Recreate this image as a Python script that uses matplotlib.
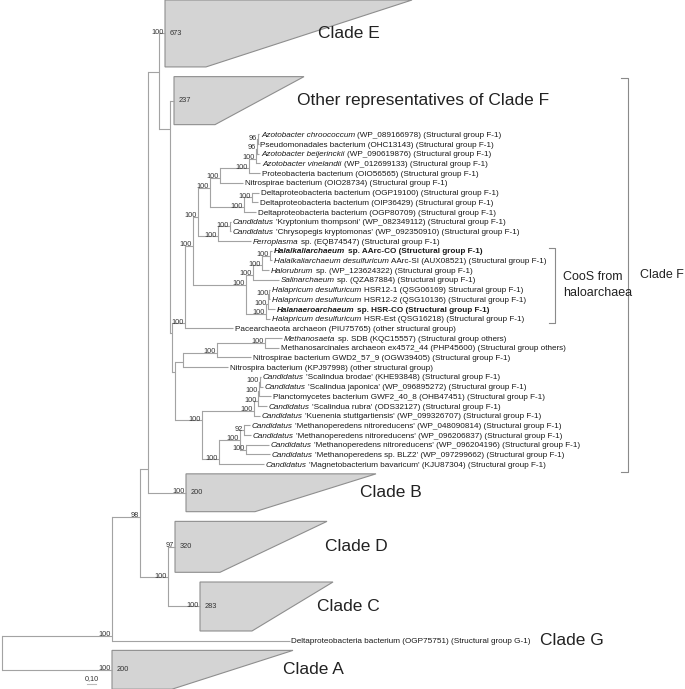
import matplotlib
matplotlib.use('Agg')
import matplotlib.pyplot as plt
from matplotlib.patches import Polygon

plt.rcParams['font.family'] = ['Liberation Sans', 'DejaVu Sans']

# ---- data ----
# leaves from top to bottom, text between * is italic
leaf_labels = [
    '*Azotobacter chroococcum* (WP_089166978) (Structural group F-1)',
    'Pseudomonadales bacterium (OHC13143) (Structural group F-1)',
    '*Azotobacter beijerinckii* (WP_090619876) (Structural group F-1)',
    '*Azotobacter vinelandii* (WP_012699133) (Structural group F-1)',
    'Proteobacteria bacterium (OIO56565) (Structural group F-1)',
    'Nitrospirae bacterium (OIO28734) (Structural group F-1)',
    'Deltaproteobacteria bacterium (OGP19100) (Structural group F-1)',
    'Deltaproteobacteria bacterium (OIP36429) (Structural group F-1)',
    'Deltaproteobacteria bacterium (OGP80709) (Structural group F-1)',
    "*Candidatus* 'Kryptonium thompsoni' (WP_082349112) (Structural group F-1)",
    "*Candidatus* 'Chrysopegis kryptomonas' (WP_092350910) (Structural group F-1)",
    '*Ferroplasma* sp. (EQB74547) (Structural group F-1)',
    '*Halalkaliarchaeum* sp. AArc-CO (Structural group F-1)',
    '*Halalkaliarchaeum desulfuricum* AArc-SI (AUX08521) (Structural group F-1)',
    '*Halorubrum* sp. (WP_123624322) (Structural group F-1)',
    '*Salinarchaeum* sp. (QZA87884) (Structural group F-1)',
    '*Halapricum desulfuricum* HSR12-1 (QSG06169) Structural group F-1)',
    '*Halapricum desulfuricum* HSR12-2 (QSG10136) (Structural group F-1)',
    '*Halanaeroarchaeum* sp. HSR-CO (Structural group F-1)',
    '*Halapricum desulfuricum* HSR-Est (QSG16218) (Structural group F-1)',
    'Pacearchaeota archaeon (PIU75765) (other structural group)',
    '*Methanosaeta* sp. SDB (KQC15557) (Structural group others)',
    'Methanosarcinales archaeon ex4572_44 (PHP45600) (Structural group others)',
    'Nitrospirae bacterium GWD2_57_9 (OGW39405) (Structural group F-1)',
    'Nitrospira bacterium (KPJ97998) (other structural group)',
    "*Candidatus* 'Scalindua brodae' (KHE93848) (Structural group F-1)",
    "*Candidatus* 'Scalindua japonica' (WP_096895272) (Structural group F-1)",
    'Planctomycetes bacterium GWF2_40_8 (OHB47451) (Structural group F-1)',
    "*Candidatus* 'Scalindua rubra' (ODS32127) (Structural group F-1)",
    "*Candidatus* 'Kuenenia stuttgartiensis' (WP_099326707) (Structural group F-1)",
    "*Candidatus* 'Methanoperedens nitroreducens' (WP_048090814) (Structural group F-1)",
    "*Candidatus* 'Methanoperedens nitroreducens' (WP_096206837) (Structural group F-1)",
    "*Candidatus* 'Methanoperedens nitroreducens' (WP_096204196) (Structural group F-1)",
    "*Candidatus* 'Methanoperedens sp. BLZ2' (WP_097299662) (Structural group F-1)",
    "*Candidatus* 'Magnetobacterium bavaricum' (KJU87304) (Structural group F-1)",
]
# depth of each leaf tip (tree units, 0.10 substitutions = 9 units)
leaf_tip = [259.5, 258.8, 259.5, 260.5, 260.5, 243.5, 259.5, 258.5, 256.5,
            231.5, 231.5, 251.5, 272.5, 272.5, 269.5, 279.5, 270.5, 270.5,
            275.5, 270.5, 233.5, 282.5, 279.5, 251.5, 228.5, 261.5, 263.5,
            271.5, 267.5, 260.5, 250.5, 251.5, 269.5, 270.5, 264.5]
bold_leaves = ['L13', 'L19']

# collapsed clades
clade_names = ['E', 'OtherF', 'B', 'D', 'C', 'A']
clade_size = [673, 237, 200, 320, 283, 200]
clade_support = [100, None, 100, 97, 100, 100]
clade_base = [165, 174, 186, 175, 200, 112]
clade_min_tip = [206, 215, 255, 220, 252, 172]
clade_max_tip = [412, 304, 376, 327, 333, 293]
clade_rows = [6.9, 4.95, 3.9, 5.25, 5.05, 4.0]
clade_titles = ['Clade E', 'Other representatives of Clade F', 'Clade B',
                'Clade D', 'Clade C', 'Clade A']

g_label = 'Deltaproteobacteria bacterium (OGP75751) (Structural group G-1)'
g_tip = 290

# internal nodes: name -> (depth, children, bootstrap)
nodes = {
    'a': (258.3, ['L1', 'L2'], 96),
    'b': (257.2, ['a', 'L3'], 96),
    'c': (256, ['b', 'L4'], 100),
    'd': (249, ['c', 'L5'], 100),
    'e': (220, ['d', 'L6'], 100),
    'h': (252, ['L7', 'L8'], 100),
    'g': (244, ['h', 'L9'], 100),
    'f': (210, ['e', 'g'], 100),
    'k': (230, ['L10', 'L11'], 100),
    'j': (218, ['k', 'L12'], 100),
    'i': (198, ['f', 'j'], 100),
    'h1': (270, ['L13', 'L14'], 100),
    'h2': (262, ['h1', 'L15'], 100),
    'h3': (253, ['h2', 'L16'], 100),
    'hs1': (269.3, ['L17', 'L18'], 100),
    'hs2': (268, ['hs1', 'L19'], 100),
    'hs3': (266, ['hs2', 'L20'], 100),
    'm': (246, ['h3', 'hs3'], 100),
    'l': (193, ['i', 'm'], 100),
    'n': (185, ['l', 'L21'], 100),
    'p': (265, ['L22', 'L23'], 100),
    'q': (217, ['p', 'L24'], 100),
    'r': (183, ['q', 'L25'], None),
    'A1': (260, ['L26', 'L27'], 100),
    'A2': (259, ['A1', 'L28'], 100),
    'A3': (258, ['A2', 'L29'], 100),
    'A4': (254, ['A3', 'L30'], 100),
    'm1': (244, ['L31', 'L32'], 92),
    'm3': (246, ['L33', 'L34'], 100),
    'm2': (240, ['m1', 'm3'], 100),
    'm4': (219, ['m2', 'L35'], 100),
    'S': (202, ['A4', 'm4'], 100),
    'F2': (175, ['r', 'S'], None),
    'F1': (172, ['n', 'F2'], None),
    'F': (170, ['OtherF', 'F1'], None),
    'NEF': (159, ['E', 'F'], None),
    'N149': (148, ['NEF', 'B'], None),
    'DC': (168, ['D', 'C'], 100),
    'N141': (140, ['N149', 'DC'], 98),
    'N112': (112, ['N141', 'G'], 100),
    'root': (2, ['N112', 'A'], None),
}

leaves = ['L%d' % (i + 1) for i in range(len(leaf_labels))]
order = ['E', 'OtherF'] + leaves + ['B', 'D', 'C', 'G', 'A']

# ---- layout ----
ROW = 9.7
ext, attach, weight, xpos = {}, {}, {}, {}
bottom = None
for name in order:
    h = clade_rows[clade_names.index(name)] * ROW if name in clade_names else 0
    top = 0 if bottom is None else bottom + ROW
    bottom = top + h
    ext[name] = (top, bottom)
    attach[name] = top + h / 2
    weight[name] = h / ROW + 1
    if name in clade_names:
        xpos[name] = clade_base[clade_names.index(name)]
    elif name == 'G':
        xpos[name] = g_tip
    else:
        xpos[name] = leaf_tip[leaves.index(name)]


def layout(name):
    if name in attach:
        return
    depth, kids, _ = nodes[name]
    for k in kids:
        layout(k)
    ext[name] = (min(ext[k][0] for k in kids), max(ext[k][1] for k in kids))
    weight[name] = sum(weight[k] for k in kids)
    inv = sum(1 / weight[k] for k in kids)
    attach[name] = sum((ext[k][0] + ext[k][1]) / 2 / weight[k] for k in kids) / inv
    xpos[name] = depth


layout('root')

# ---- drawing ----
fig = plt.figure(figsize=(6.85, 6.89), dpi=100)
ax = fig.add_axes([0, 0, 1, 1])
ax.set_xlim(0, 685)
ax.set_ylim(689, 0)
ax.axis('off')

line_c = '#a3a3a3'
lw = 0.8
for name, (depth, kids, sup) in nodes.items():
    ys = [attach[k] for k in kids]
    ax.plot([depth, depth], [min(ys), max(ys)], color=line_c, lw=lw, solid_capstyle='projecting')
    for k in kids:
        ax.plot([depth, xpos[k]], [attach[k], attach[k]], color=line_c, lw=lw, solid_capstyle='butt')
    if sup is not None:
        ax.text(depth - 1, attach[name] + 0.5, str(sup), fontsize=5.3, color='#333333',
                ha='right', va='baseline')

for i, name in enumerate(clade_names):
    top, bot = ext[name]
    b = clade_base[i]
    ax.add_patch(Polygon([(b, top), (clade_max_tip[i], top), (clade_min_tip[i], bot), (b, bot)],
                         closed=True, fc='#d4d4d4', ec='#8e8e8e', lw=0.8))
    ax.text(b + 5, attach[name], str(clade_size[i]), fontsize=5.3, color='#333333',
            ha='left', va='center')
    if clade_support[i] is not None:
        ax.text(b - 1, attach[name] + 0.5, str(clade_support[i]), fontsize=5.3, color='#333333',
                ha='right', va='baseline')

renderer = fig.canvas.get_renderer()
LEAF_FS = 5.9
space = 0.278 * LEAF_FS * 100 / 72


def rich_text(x, y, markup, bold=False):
    cx = x
    for idx, part in enumerate(markup.split('*')):
        if not part.strip():
            continue
        if part.startswith(' '):
            cx += space
        t = ax.text(cx, y, part.strip(), fontsize=LEAF_FS, color='#1a1a1a',
                    fontstyle='italic' if idx % 2 else 'normal',
                    fontweight='bold' if bold else 'normal',
                    ha='left', va='baseline')
        cx += t.get_window_extent(renderer).width
        if part.endswith(' '):
            cx += space


for name, lab in zip(leaves, leaf_labels):
    rich_text(xpos[name] + 1.5, attach[name] + 2.6, lab, bold=name in bold_leaves)
rich_text(g_tip + 1.5, attach['G'] + 2.6, g_label)

# clade names
title_x = [318, 297, 360, 325, 317, 283]
for i, name in enumerate(clade_names):
    ax.text(title_x[i], attach[name], clade_titles[i], fontsize=12.5, color='#222222',
            ha='left', va='center')
ax.text(540, attach['G'], 'Clade G', fontsize=12.5, color='#222222', ha='left', va='center')

# brackets
br_c = '#8a8a8a'
f_top, f_bot = ext['OtherF'][0] + 1, ext['L35'][1] + 8
ax.plot([621, 628, 628, 621], [f_top, f_top, f_bot, f_bot], color=br_c, lw=0.8)
ax.text(640, (f_top + f_bot) / 2, 'Clade F', fontsize=9, color='#222222', ha='left', va='center')
c_top, c_bot = ext['L13'][0] - 3, ext['L20'][1] + 4
ax.plot([549, 555, 555, 549], [c_top, c_top, c_bot, c_bot], color=br_c, lw=0.8)
ax.text(563, (c_top + c_bot) / 2, 'CooS from\nhaloarchaea', fontsize=9, color='#222222',
        ha='left', va='center', linespacing=1.5)

# scale bar (0,10 substitutions)
ax.plot([87, 96], [684, 684], color='#bbbbbb', lw=0.8)
ax.text(91.5, 682, '0,10', fontsize=5.2, color='#333333', ha='center', va='bottom')

fig.savefig('out.png', dpi=100)
